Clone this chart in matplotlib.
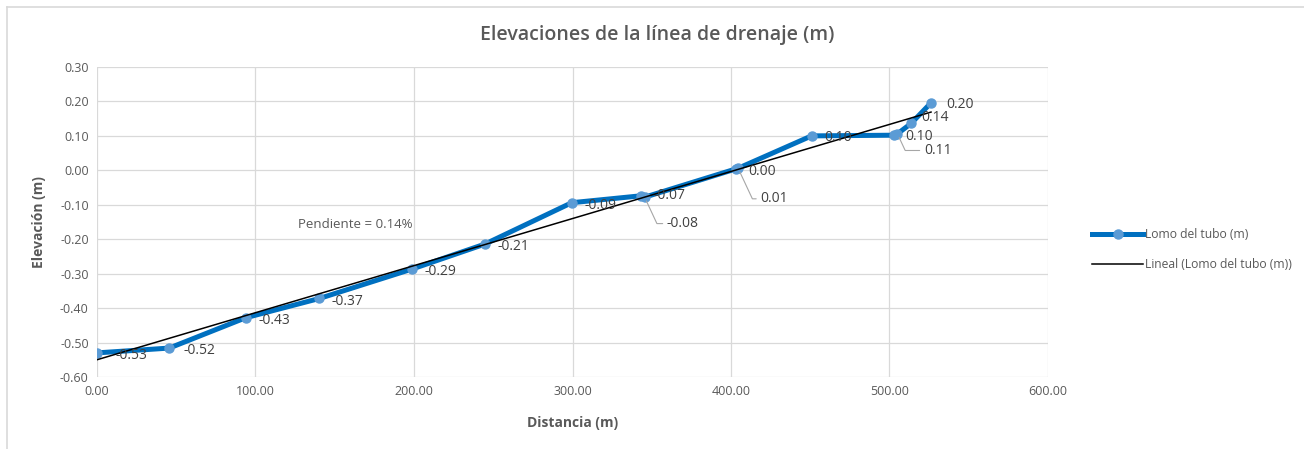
import numpy as np
import matplotlib
matplotlib.use("Agg")
import matplotlib.pyplot as plt
from matplotlib.lines import Line2D
from matplotlib.ticker import FormatStrFormatter

plt.rcParams["font.family"] = ["Open Sans", "DejaVu Sans"]

# data
distancia = [0.0, 45.6, 93.8, 140.3, 198.5, 244.8, 299.5, 343.0, 345.5,
             403.0, 404.5, 450.8, 503.0, 505.0, 513.6, 526.2]
elevacion = [-0.53, -0.516, -0.428, -0.372, -0.287, -0.214, -0.094, -0.074,
             -0.078, 0.004, 0.006, 0.100, 0.102, 0.106, 0.136, 0.196]
# label offsets in points (dx, dy) and whether a leader line is drawn
label_offsets = [(13, -2), (10, -2), (9, -2), (9, -2), (9, -2), (9, -2),
                 (9, -2), (9, 0), (16, -19), (9, -2), (16, -22), (9, -1),
                 (8, -1), (19, -12), (7, 4), (11, -1)]
leaders = [False, False, False, False, False, False, False, False, True,
           False, True, False, False, True, False, False]

x_ticks = [0, 100, 200, 300, 400, 500, 600]
y_ticks = [-0.6, -0.5, -0.4, -0.3, -0.2, -0.1, 0.0, 0.1, 0.2, 0.3]

fig = plt.figure(figsize=(13.04, 4.49), dpi=100)
ax = fig.add_axes([97 / 1304, 1 - 377 / 449, (1048 - 97) / 1304, (377 - 67) / 449])

# chart border (only top and left edges visible in the reference)
fig.lines.append(Line2D([6.5 / 1304, 1], [1 - 6.5 / 449, 1 - 6.5 / 449],
                        transform=fig.transFigure, color="#D9D9D9", lw=1.2))
fig.lines.append(Line2D([6.5 / 1304, 6.5 / 1304], [0, 1 - 6.5 / 449],
                        transform=fig.transFigure, color="#D9D9D9", lw=1.2))

ax.plot(distancia, elevacion, color="#0070C0", linewidth=3.6, marker="o",
        markersize=6.5, markerfacecolor="#5B9BD5", markeredgecolor="#5B9BD5",
        label="Lomo del tubo (m)", zorder=3)

coef = np.polyfit(distancia, elevacion, 1)
xt = np.array([distancia[0], distancia[-1]])
ax.plot(xt, np.polyval(coef, xt), color="black", linewidth=1.1,
        label="Lineal (Lomo del tubo (m))", zorder=4)

for xv, yv, (dx, dy), lead in zip(distancia, elevacion, label_offsets, leaders):
    txt = f"{yv:.2f}"
    if lead:
        ax.annotate(txt, (xv, yv), xytext=(dx, dy), textcoords="offset points",
                    fontsize=10, color="#404040", va="center", ha="left",
                    arrowprops=dict(arrowstyle="-", color="#A6A6A6", lw=0.8,
                                    shrinkA=1, shrinkB=3,
                                    connectionstyle="angle,angleA=0,angleB=-65,rad=0"),
                    zorder=5)
    else:
        ax.annotate(txt, (xv, yv), xytext=(dx, dy), textcoords="offset points",
                    fontsize=10, color="#404040", va="center", ha="left", zorder=5)

ax.text(127, -0.158, "Pendiente = 0.14%", fontsize=9.5, color="#595959",
        va="center", ha="left")

ax.set_xlim(0, 600)
ax.set_ylim(-0.6, 0.3)
ax.set_xticks(x_ticks)
ax.set_yticks(y_ticks)
ax.xaxis.set_major_formatter(FormatStrFormatter("%.2f"))
ax.yaxis.set_major_formatter(FormatStrFormatter("%.2f"))
ax.grid(True, color="#D9D9D9", linewidth=0.9)
ax.set_axisbelow(True)
for s in ax.spines.values():
    s.set_visible(False)
ax.tick_params(length=0, labelsize=9, colors="#595959", pad=6)

ax.set_xlabel("Distancia (m)", fontsize=10, fontweight="bold", color="#595959", labelpad=13)
ax.set_ylabel("Elevación (m)", fontsize=10, fontweight="bold", color="#595959", labelpad=10)
fig.suptitle("Elevaciones de la línea de drenaje (m)", x=657 / 1304, y=1 - 35 / 449,
             va="center", fontsize=14, fontweight="semibold", color="#595959")

ax.legend(loc="center left", bbox_to_anchor=(1.035, 0.41), frameon=False,
          fontsize=8.7, labelcolor="#595959", handlelength=4.2, handletextpad=0.15,
          labelspacing=1.4)

fig.savefig("out.png", dpi=100)
